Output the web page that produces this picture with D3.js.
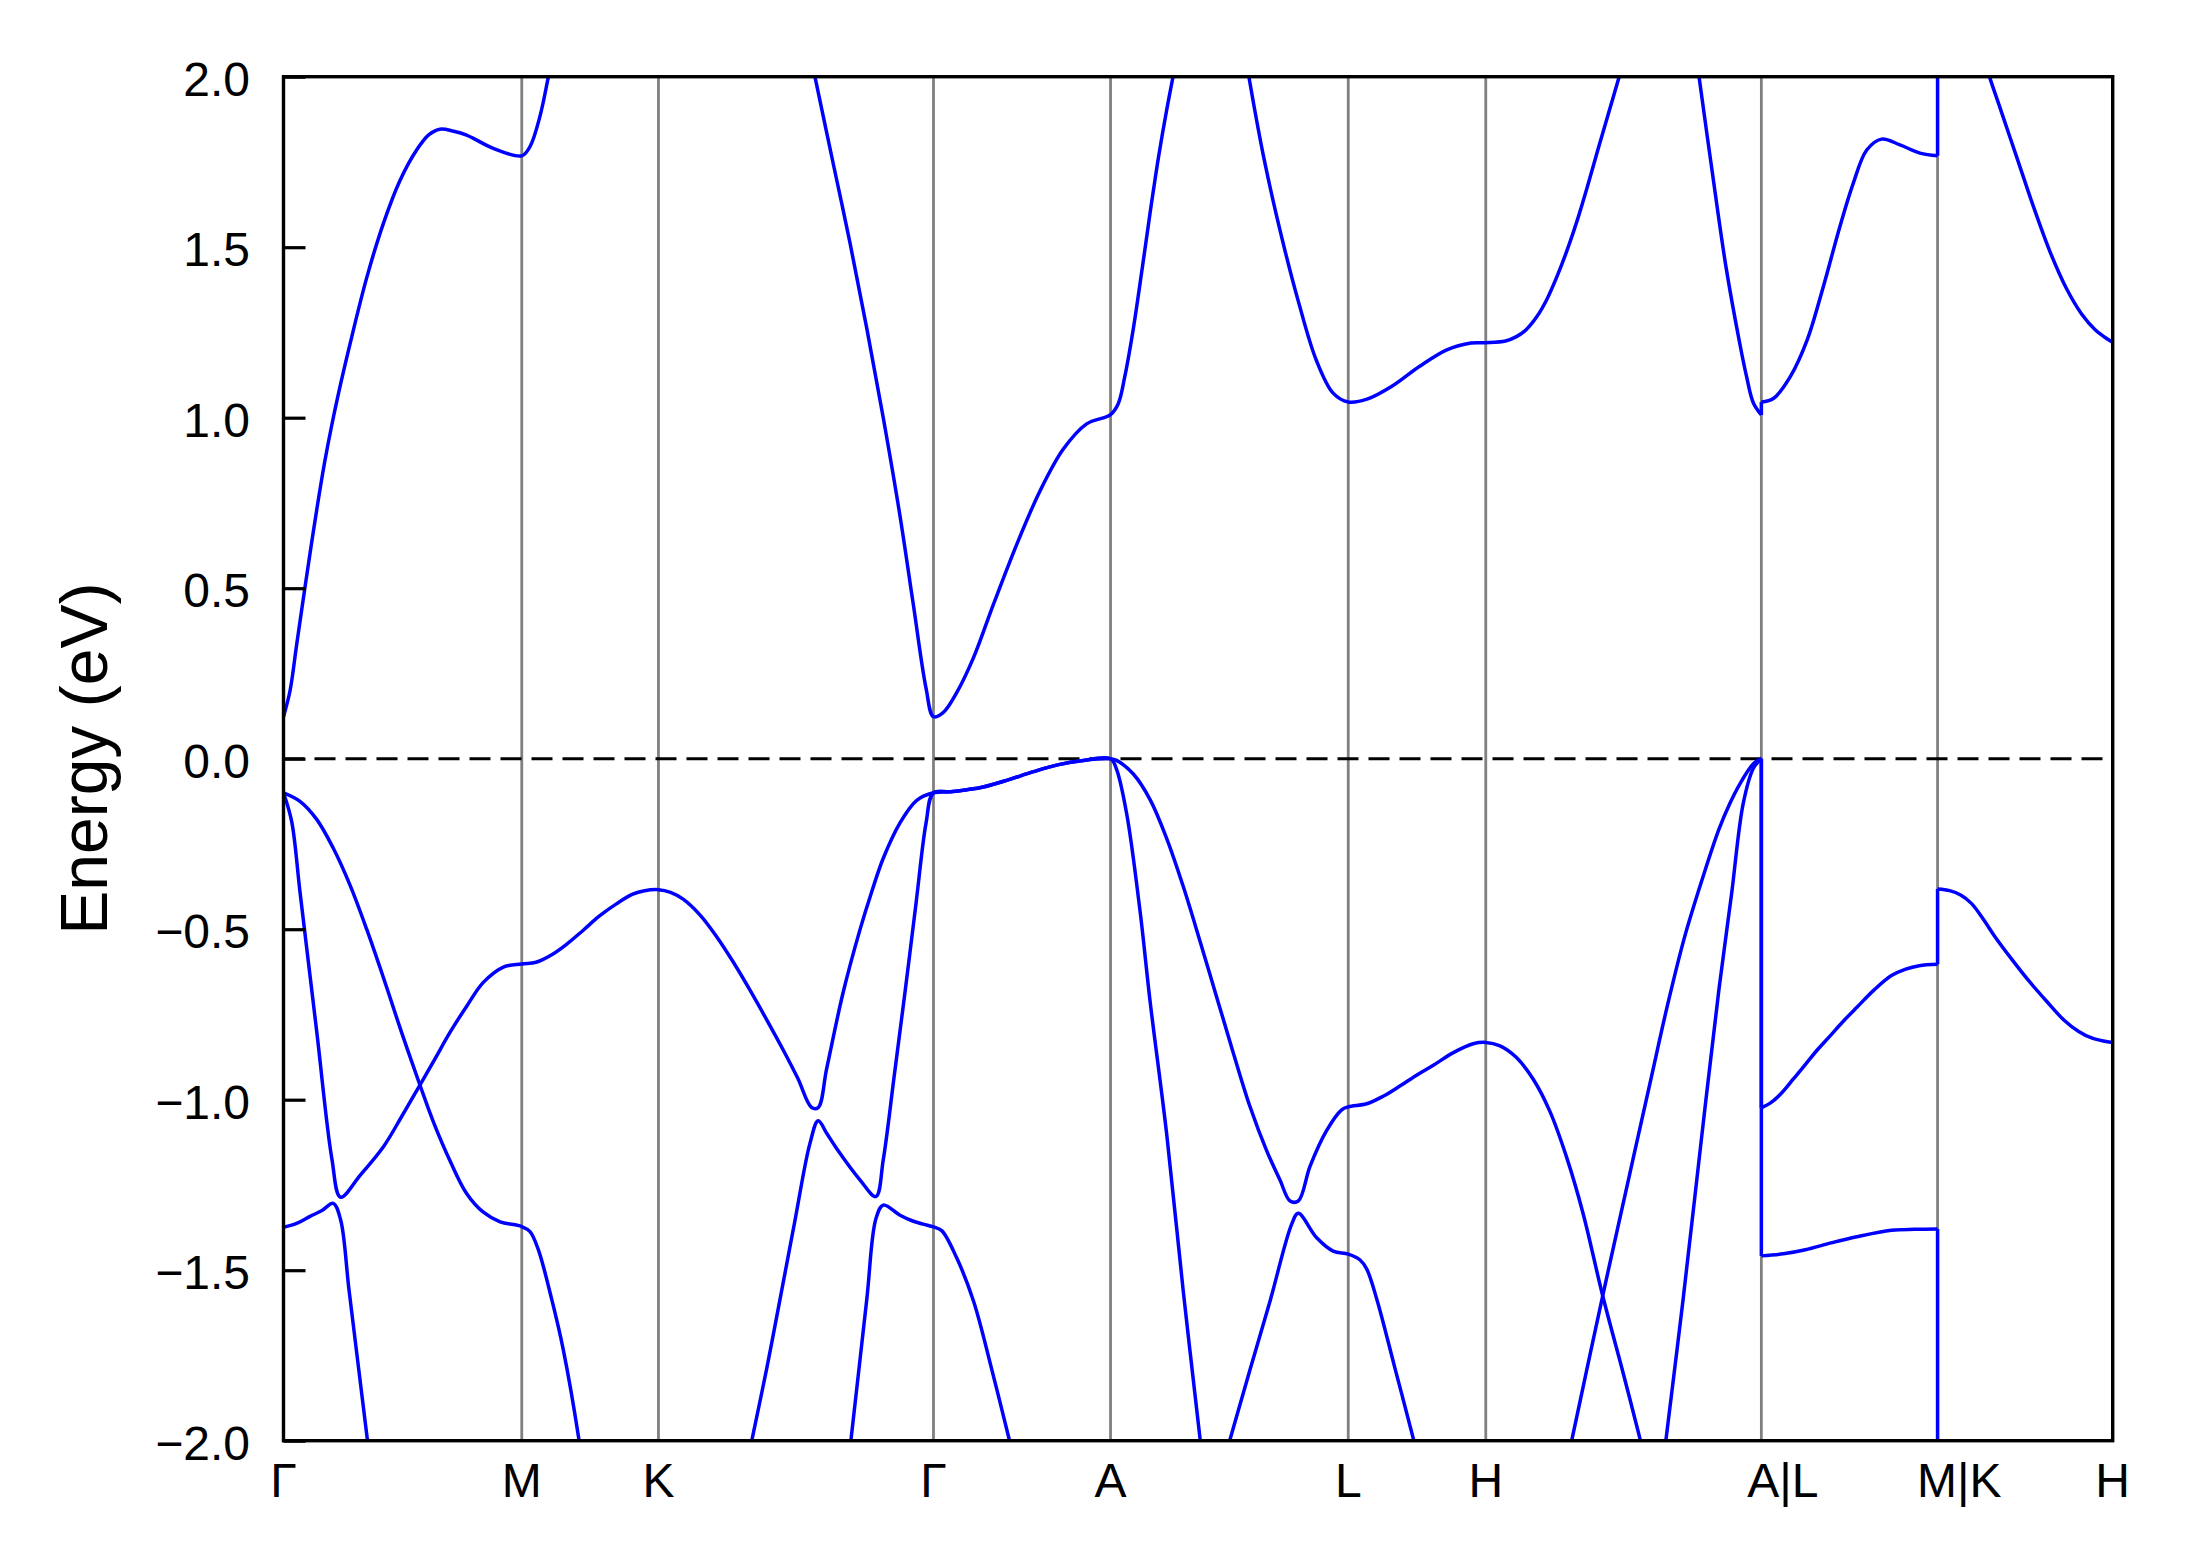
<!DOCTYPE html>
<html>
<head>
<meta charset="utf-8">
<script src="https://cdn.jsdelivr.net/npm/d3@7"></script>
<style>
  html, body { margin: 0; padding: 0; background: #fff; }
  svg text { font-family: "Liberation Sans", Arial, sans-serif; fill: #000; }
</style>
</head>
<body>
<div id="chart"></div>
<script>
// high symmetry points along the path
var kTicks = [0, 0.868, 1.366, 2.368, 3.013, 3.879, 4.380, 5.384, 6.026, 6.664];
var kLabels = ["Γ", "M", "K", "Γ", "A", "L", "H", "A|L", "M|K", "H"];
var eTicks = [-2, -1.5, -1, -0.5, 0, 0.5, 1, 1.5, 2];

// bands as [k, E] points; null = leaves the window, same k twice = jump
var band1 = [
  [0,0.123],[0.024,0.20],[0.048,0.335],[0.076,0.49],[0.100,0.62],[0.125,0.75],[0.150,0.87],[0.175,0.975],
  [0.200,1.07],[0.242,1.215],[0.303,1.41],[0.364,1.57],[0.424,1.695],[0.485,1.785],[0.530,1.830],
  [0.570,1.846],[0.620,1.840],[0.667,1.829],[0.764,1.790],[0.868,1.768],[0.898,1.795],[0.934,1.883],
  [0.964,1.996],[0.980,2.06],
  null,
  [1.920,2.06],[1.936,2.0],[2.003,1.744],[2.064,1.512],[2.125,1.262],[2.185,1.000],[2.246,0.712],
  [2.294,0.455],[2.341,0.206],[2.368,0.123],[2.404,0.136],[2.452,0.193],[2.513,0.295],[2.586,0.452],
  [2.671,0.628],[2.756,0.785],[2.841,0.908],[2.926,0.982],[3.013,1.009],[3.041,1.041],[3.065,1.121],
  [3.096,1.261],[3.127,1.43],[3.157,1.60],[3.187,1.76],[3.217,1.90],[3.248,2.03],[3.258,2.07],
  null,
  [3.507,2.05],[3.517,2.0],[3.573,1.756],[3.636,1.531],[3.699,1.336],[3.762,1.170],[3.824,1.072],
  [3.879,1.046],[3.950,1.055],[4.038,1.092],[4.138,1.150],[4.238,1.199],[4.326,1.219],[4.380,1.220],
  [4.452,1.225],[4.490,1.237],[4.527,1.258],[4.565,1.295],[4.602,1.346],[4.640,1.415],[4.678,1.495],
  [4.715,1.583],[4.753,1.685],[4.790,1.790],[4.828,1.895],[4.866,2.0],[4.880,2.04],
  null,
  [5.147,2.06],[5.157,2.0],[5.204,1.727],[5.255,1.443],[5.305,1.219],[5.330,1.121],[5.355,1.043],[5.384,1.008],
  [5.384,1.046],[5.429,1.057],[5.490,1.121],[5.551,1.228],[5.610,1.385],[5.670,1.560],[5.719,1.688],
  [5.768,1.785],[5.822,1.817],[5.889,1.800],[5.962,1.776],[6.026,1.768],
  [6.026,2.1],
  null,
  [6.200,2.04],[6.217,1.995],[6.253,1.910],[6.314,1.765],[6.374,1.622],[6.435,1.488],[6.496,1.378],
  [6.550,1.305],[6.600,1.258],[6.635,1.236],[6.664,1.221]
];

var band2 = [
  [0,-0.10],[0.030,-0.185],[0.060,-0.390],[0.121,-0.800],[0.176,-1.172],[0.208,-1.286],[0.279,-1.222],
  [0.364,-1.138],[0.430,-1.050],[0.497,-0.957],[0.552,-0.880],[0.607,-0.802],[0.668,-0.725],[0.728,-0.656],
  [0.801,-0.611],[0.868,-0.602],[0.920,-0.597],[0.971,-0.578],[1.030,-0.545],[1.092,-0.503],[1.150,-0.462],
  [1.214,-0.425],[1.270,-0.398],[1.311,-0.388],[1.366,-0.384],[1.410,-0.392],[1.456,-0.412],[1.517,-0.458],
  [1.578,-0.522],[1.639,-0.597],[1.699,-0.678],[1.760,-0.765],[1.821,-0.855],[1.874,-0.938],[1.924,-1.023],
  [1.948,-1.023],
  [1.979,-0.908],[2.039,-0.685],[2.100,-0.502],[2.143,-0.390],[2.185,-0.292],[2.246,-0.188],[2.307,-0.122],
  [2.368,-0.10],[2.430,-0.097],[2.490,-0.091],[2.549,-0.083],[2.640,-0.062],[2.732,-0.038],[2.820,-0.018],
  [2.914,-0.005],[3.013,0],
  [3.035,-0.005],[3.096,-0.045],[3.157,-0.120],[3.218,-0.235],[3.278,-0.375],[3.339,-0.535],[3.400,-0.700],
  [3.460,-0.862],[3.521,-1.020],[3.582,-1.150],[3.630,-1.235],[3.667,-1.297],[3.697,-1.297],[3.740,-1.195],
  [3.800,-1.091],[3.855,-1.030],[3.879,-1.021],
  [3.946,-1.012],[4.006,-0.990],[4.067,-0.960],[4.128,-0.928],[4.189,-0.899],[4.262,-0.862],[4.334,-0.836],
  [4.380,-0.832],[4.432,-0.842],[4.490,-0.875],[4.553,-0.940],[4.614,-1.035],[4.675,-1.170],[4.735,-1.335],
  [4.806,-1.575],[4.880,-1.800],[4.950,-2.02],[4.965,-2.07],
  null,
  [4.680,-2.05],[4.693,-2.0],[4.806,-1.575],[4.890,-1.270],[4.978,-0.953],[5.040,-0.730],[5.104,-0.524],
  [5.170,-0.350],[5.230,-0.206],[5.270,-0.130],[5.305,-0.075],[5.355,-0.015],[5.384,0],
  [5.384,-1.024],[5.420,-1.008],[5.456,-0.982],[5.500,-0.940],[5.544,-0.897],[5.590,-0.852],[5.632,-0.815],
  [5.680,-0.772],[5.732,-0.729],[5.795,-0.678],[5.858,-0.636],[5.910,-0.617],[5.959,-0.607],[6.026,-0.603],
  [6.026,-0.382],[6.070,-0.387],[6.110,-0.400],[6.150,-0.425],[6.192,-0.470],[6.235,-0.522],[6.298,-0.590],
  [6.361,-0.654],[6.424,-0.712],[6.487,-0.767],[6.540,-0.800],[6.587,-0.819],[6.630,-0.828],[6.664,-0.832]
];

var band3 = [
  [0,-0.10],[0.060,-0.125],[0.121,-0.178],[0.181,-0.262],[0.242,-0.370],[0.303,-0.500],[0.364,-0.642],
  [0.424,-0.788],[0.497,-0.957],[0.546,-1.065],[0.607,-1.180],[0.667,-1.275],[0.728,-1.330],[0.789,-1.358],
  [0.868,-1.372],[0.898,-1.387],[0.928,-1.439],[0.977,-1.585],[1.019,-1.732],[1.075,-1.990],[1.085,-2.05],
  null,
  [1.694,-2.05],[1.706,-2.0],[1.760,-1.79],[1.809,-1.585],[1.862,-1.36],[1.918,-1.128],[1.948,-1.062],
  [1.980,-1.100],[2.015,-1.143],[2.100,-1.235],[2.158,-1.284],[2.185,-1.176],[2.225,-0.930],[2.265,-0.680],
  [2.305,-0.420],[2.341,-0.188],[2.368,-0.10],[2.430,-0.097],[2.490,-0.091],[2.549,-0.083],[2.640,-0.062],
  [2.732,-0.038],[2.820,-0.018],[2.914,-0.005],[3.013,0],
  [3.035,-0.031],[3.072,-0.162],[3.121,-0.450],[3.157,-0.711],[3.218,-1.104],[3.278,-1.562],[3.340,-2.0],[3.347,-2.05],
  null,
  [5.030,-2.04],[5.036,-2.0],[5.099,-1.585],[5.165,-1.12],[5.230,-0.673],[5.275,-0.40],[5.318,-0.131],
  [5.355,-0.028],[5.384,0],
  [5.384,-1.458],[5.464,-1.452],[5.544,-1.440],[5.638,-1.420],[5.732,-1.402],[5.858,-1.383],[5.942,-1.380],
  [6.026,-1.379],
  [6.026,-2.1]
];

var band4 = [
  [0,-1.374],[0.050,-1.362],[0.097,-1.342],[0.140,-1.325],[0.181,-1.304],[0.208,-1.352],[0.239,-1.560],
  [0.306,-2.0],[0.315,-2.06],
  null,
  [2.058,-2.06],[2.067,-2.0],[2.125,-1.585],[2.158,-1.350],[2.185,-1.309],[2.246,-1.339],[2.290,-1.355],
  [2.331,-1.365],[2.368,-1.373],[2.398,-1.384],[2.452,-1.463],[2.514,-1.591],[2.580,-1.790],[2.645,-2.0],[2.660,-2.05],
  null,
  [3.430,-2.05],[3.447,-2.0],[3.520,-1.795],[3.594,-1.591],[3.673,-1.365],[3.697,-1.333],[3.764,-1.405],
  [3.824,-1.444],[3.879,-1.453],[3.922,-1.470],[3.946,-1.496],[3.983,-1.585],[4.050,-1.790],[4.118,-2.0],[4.133,-2.05]
];

var bands = [band1, band2, band3, band4];

var width = 2191,
  height = 1567,
  margin = {left: 283.5, right: 78.3, top: 76.7, bottom: 126.3},
  innerW = width - margin.left - margin.right,
  innerH = height - margin.top - margin.bottom;

var svg = d3.select("#chart")
  .append("svg")
  .attr("width", width)
  .attr("height", height)
  .style("background", "#fff");

var chart = svg.append("g")
  .attr("transform", "translate(" + margin.left + "," + margin.top + ")");

var xScale = d3.scaleLinear().domain([kTicks[0], kTicks[kTicks.length - 1]]).range([0, innerW]),
  yScale = d3.scaleLinear().domain([-2, 2]).range([innerH, 0]);

svg.append("defs").append("clipPath").attr("id", "plotclip")
  .append("rect").attr("x", 0).attr("y", 0).attr("width", innerW).attr("height", innerH);

// gray lines at the k-points
chart.selectAll("line.kline")
  .data(kTicks.slice(1, -1))
  .enter().append("line")
  .attr("class", "kline")
  .attr("x1", function (d) { return xScale(d); })
  .attr("x2", function (d) { return xScale(d); })
  .attr("y1", 0)
  .attr("y2", innerH)
  .attr("stroke", "#808080")
  .attr("stroke-width", 2.8);

// Fermi level
chart.append("line")
  .attr("x1", 0).attr("x2", innerW)
  .attr("y1", yScale(0)).attr("y2", yScale(0))
  .attr("stroke", "#000")
  .attr("stroke-width", 3)
  .attr("stroke-dasharray", "21,10");

// split a band into smooth runs and vertical jumps
function splitBand(band) {
  var runs = [], jumps = [], cur = [];
  band.forEach(function (p) {
    if (p === null) {
      if (cur.length > 1) runs.push(cur);
      cur = [];
      return;
    }
    if (cur.length && p[0] === cur[cur.length - 1][0]) {
      if (cur.length > 1) runs.push(cur);
      jumps.push([cur[cur.length - 1], p]);
      cur = [p];
      return;
    }
    cur.push(p);
  });
  if (cur.length > 1) runs.push(cur);
  return {runs: runs, jumps: jumps};
}

var smooth = d3.line()
  .x(function (d) { return xScale(d[0]); })
  .y(function (d) { return yScale(d[1]); })
  .curve(d3.curveCatmullRom.alpha(0.5));

var straight = d3.line()
  .x(function (d) { return xScale(d[0]); })
  .y(function (d) { return yScale(d[1]); });

var bandG = chart.append("g").attr("clip-path", "url(#plotclip)");

bands.forEach(function (band) {
  var parts = splitBand(band);
  bandG.selectAll(null)
    .data(parts.runs)
    .enter().append("path")
    .attr("d", smooth)
    .attr("fill", "none")
    .attr("stroke", "#0000ff")
    .attr("stroke-width", 3.5)
    .attr("stroke-linejoin", "round");
  bandG.selectAll(null)
    .data(parts.jumps)
    .enter().append("path")
    .attr("d", straight)
    .attr("fill", "none")
    .attr("stroke", "#0000ff")
    .attr("stroke-width", 3.5);
});

// y axis with inward ticks
var yAxis = chart.append("g")
  .attr("class", "y axis")
  .call(d3.axisLeft(yScale).tickValues(eTicks).tickFormat(d3.format(".1f"))
    .tickSizeInner(-22).tickSizeOuter(0).tickPadding(33.5));
yAxis.select(".domain").remove();
yAxis.selectAll(".tick line").attr("stroke", "#000").attr("stroke-width", 3.2);
yAxis.selectAll(".tick text")
  .attr("font-size", 48)
  .attr("font-family", "Liberation Sans, Arial, sans-serif")
  .attr("dy", "0.39em");

// x tick labels at the k-points
chart.selectAll("text.klabel")
  .data(kTicks)
  .enter().append("text")
  .attr("class", "klabel")
  .attr("x", function (d) { return xScale(d); })
  .attr("y", innerH + 56)
  .attr("dx", function (d, i) { return kLabels[i].indexOf("|") >= 0 ? "0.45em" : 0; })
  .attr("text-anchor", "middle")
  .attr("font-size", 48)
  .text(function (d, i) { return kLabels[i]; });

// frame
chart.append("rect")
  .attr("x", 0).attr("y", 0)
  .attr("width", innerW).attr("height", innerH)
  .attr("fill", "none")
  .attr("stroke", "#000")
  .attr("stroke-width", 3.4);

svg.append("text")
  .attr("transform", "translate(107," + (margin.top + innerH / 2) + ") rotate(-90)")
  .attr("text-anchor", "middle")
  .attr("font-size", 66)
  .text("Energy (eV)");
</script>
</body>
</html>
